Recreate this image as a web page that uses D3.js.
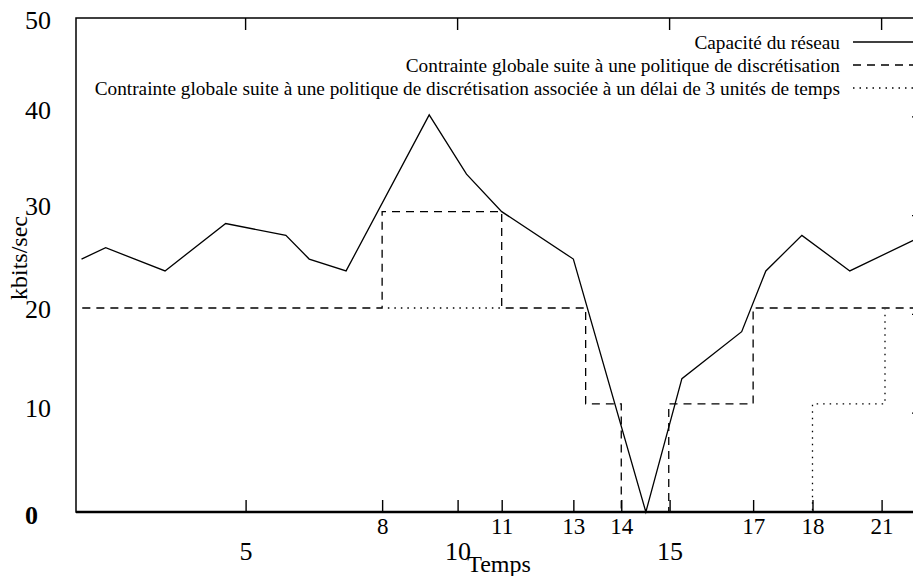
<!DOCTYPE html>
<html>
<head>
<meta charset="utf-8">
<script src="https://cdn.jsdelivr.net/npm/d3@7"></script>
<style>
  body { margin: 0; background: #fff; }
  text { font-family: "Liberation Serif", "Times New Roman", serif; fill: #000; }
</style>
</head>
<body>
<div id="chart"></div>
<script>
// capacity of the network (time, kbits/sec)
var capT = [1.13, 1.70, 3.10, 4.53, 5.95, 6.50, 7.37, 9.33, 10.21, 11.04, 12.73, 14.44, 15.29, 16.70, 17.27, 18.12, 19.25, 20.75];
var capV = [25.6, 26.75, 24.4, 29.2, 28.0, 25.6, 24.4, 40.2, 34.2, 30.4, 25.6, 0, 13.5, 18.25, 24.4, 28.0, 24.4, 27.5];

// discretisation policy (step starts / levels)
var stepT = [1.15, 8.22, 11.04, 13.02, 13.86, 14.98, 16.97, 20.75];
var stepV = [20.65, 30.4, 20.65, 10.95, 0, 10.95, 20.65];

// same policy with a 3 time-unit delay
var dotT = [1.15, 13.02, 13.86, 18.37, 20.08, 20.75];
var dotV = [20.65, 10.95, 0, 10.95, 20.65];

// tick labels as placed on the figure
var xTickVals = [5, 8.22, 10, 11.04, 12.73, 13.86, 15, 16.97, 18.37, 20];
var xTickLabels = ["5", "8", "10", "11", "13", "14", "15", "17", "18", "21"];
var xMajor = ["5", "10", "15"];
var xTopTicks = [5, 10, 15, 20];

var yLabelVals = [-0.3, 10.5, 20.6, 31.0, 40.7, 49.8];
var yTickLabels = ["0", "10", "20", "30", "40", "50"];
var yRightTicks = [10, 20, 30, 40];

var legendNames = [
  "Capacité du réseau",
  "Contrainte globale suite à une politique de discrétisation",
  "Contrainte globale suite à une politique de discrétisation associée à un délai de 3 unités de temps"
];

var svgWidth = 913, svgHeight = 576;
var margin = { top: 18, right: -11, bottom: 64, left: 76 };
var chartWidth = svgWidth - margin.left - margin.right;
var chartHeight = svgHeight - margin.top - margin.bottom;

var svg = d3.select("#chart").append("svg")
  .attr("width", svgWidth)
  .attr("height", svgHeight);

var chartGroup = svg.append("g")
  .attr("transform", `translate(${margin.left}, ${margin.top})`);

var xScale = d3.scaleLinear().domain([1, 21]).range([0, chartWidth]);
var yScale = d3.scaleLinear().domain([0, 50]).range([chartHeight, 0]);

// data lines
var capData = capT.map((t, i) => ({ t: t, v: capV[i] }));
var stepData = stepT.map((t, i) => ({ t: t, v: stepV[Math.min(i, stepV.length - 1)] }));
var dotData = dotT.map((t, i) => ({ t: t, v: dotV[Math.min(i, dotV.length - 1)] }));

var line = d3.line().x(d => xScale(d.t)).y(d => yScale(d.v));
var stepLine = d3.line().x(d => xScale(d.t)).y(d => yScale(d.v)).curve(d3.curveStepAfter);

chartGroup.append("path").datum(dotData)
  .attr("d", stepLine)
  .attr("fill", "none").attr("stroke", "#000").attr("stroke-width", 1.3)
  .attr("stroke-dasharray", "1.5,5");

// white under the dashed line so overlapping dotted parts read as dashed
chartGroup.append("path").datum(stepData)
  .attr("d", stepLine)
  .attr("fill", "none").attr("stroke", "#fff").attr("stroke-width", 3);

chartGroup.append("path").datum(stepData)
  .attr("d", stepLine)
  .attr("fill", "none").attr("stroke", "#000").attr("stroke-width", 1.3)
  .attr("stroke-dasharray", "8,6");

chartGroup.append("path").datum(capData)
  .attr("d", line)
  .attr("fill", "none").attr("stroke", "#000").attr("stroke-width", 1.3);

// frame
chartGroup.append("rect")
  .attr("x", 0).attr("y", 0)
  .attr("width", chartWidth).attr("height", chartHeight)
  .attr("fill", "none").attr("stroke", "#000").attr("stroke-width", 1.5);
chartGroup.append("line")
  .attr("x1", 0).attr("x2", chartWidth)
  .attr("y1", chartHeight).attr("y2", chartHeight)
  .attr("stroke", "#000").attr("stroke-width", 2.5);

// bottom ticks with custom labels
var xAxis = d3.axisBottom(xScale)
  .tickValues(xTickVals)
  .tickSize(-12)
  .tickFormat(function(d, i) { return xTickLabels[i]; });
var gx = chartGroup.append("g")
  .attr("transform", `translate(0, ${chartHeight})`)
  .call(xAxis);
gx.select(".domain").remove();
gx.selectAll("line").attr("stroke-width", 1.4);
gx.selectAll("text")
  .attr("dy", null)
  .attr("font-size", function(d, i) { return xMajor.indexOf(xTickLabels[i]) >= 0 ? "26px" : "23px"; })
  .attr("y", function(d, i) { return xMajor.indexOf(xTickLabels[i]) >= 0 ? 48 : 22; });

// top mirror ticks
chartGroup.append("g").selectAll("line").data(xTopTicks).enter().append("line")
  .attr("x1", d => xScale(d)).attr("x2", d => xScale(d))
  .attr("y1", 0).attr("y2", 12)
  .attr("stroke", "#000").attr("stroke-width", 1.4);

// right mirror ticks
chartGroup.append("g").selectAll("line").data(yRightTicks).enter().append("line")
  .attr("x1", chartWidth).attr("x2", chartWidth - 12)
  .attr("y1", d => yScale(d)).attr("y2", d => yScale(d))
  .attr("stroke", "#000").attr("stroke-width", 1.3);

// left labels
chartGroup.append("g").selectAll("text").data(yLabelVals).enter().append("text")
  .attr("x", -51)
  .attr("y", d => yScale(d))
  .attr("dy", "0.35em")
  .attr("font-size", "26px")
  .style("font-weight", (d, i) => i === 0 ? "bold" : "normal")
  .text((d, i) => yTickLabels[i]);

// legend
var dashes = [null, "8,6", "1.5,5"];
var legend = svg.append("g");
legendNames.forEach(function(name, i) {
  var y = 42 + i * 23;
  legend.append("text")
    .attr("x", 840).attr("y", y)
    .attr("dy", "0.35em")
    .attr("text-anchor", "end")
    .attr("font-size", "19.3px")
    .text(name);
  legend.append("line")
    .attr("x1", 853).attr("x2", 913)
    .attr("y1", y).attr("y2", y)
    .attr("stroke", "#000").attr("stroke-width", 1.3)
    .attr("stroke-dasharray", dashes[i]);
});

// axis titles
svg.append("text")
  .attr("x", 499).attr("y", 572)
  .attr("text-anchor", "middle")
  .attr("font-size", "24px")
  .text("Temps");

svg.append("text")
  .attr("transform", "translate(19, 258) rotate(-90)")
  .attr("text-anchor", "middle")
  .attr("dy", "0.35em")
  .attr("font-size", "24px")
  .text("kbits/sec");
</script>
</body>
</html>
